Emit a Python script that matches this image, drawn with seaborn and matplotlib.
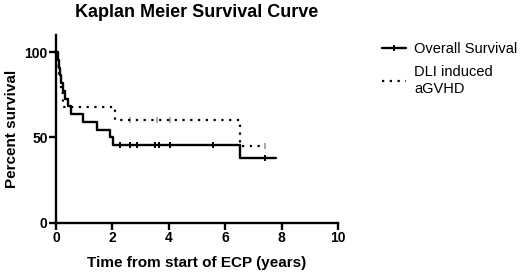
import matplotlib
matplotlib.use("Agg")
import matplotlib.pyplot as plt
import seaborn as sns
import pandas as pd
from matplotlib.lines import Line2D

# ---- data ----
os_time = [0, 0.08, 0.11, 0.14, 0.19, 0.25, 0.33, 0.42, 0.53, 0.95, 1.44, 1.91, 2.03, 6.52, 7.80]
os_surv = [100, 95.5, 90.9, 86.4, 81.8, 77.3, 72.7, 68.2, 63.6, 59.1, 54.5, 50.0, 45.5, 37.9, 37.9]
os_cens_time = [2.27, 2.62, 2.88, 3.51, 3.66, 4.04, 5.58, 7.41]
os_cens_surv = [45.5, 45.5, 45.5, 45.5, 45.5, 45.5, 45.5, 37.9]

dli_time = [0, 0.04, 0.10, 0.17, 0.26, 2.09, 6.52, 7.41]
dli_surv = [100, 92, 84, 76, 68.0, 60.2, 45.2, 45.2]
dli_cens_time = [2.62, 3.57, 4.04, 7.41]
dli_cens_surv = [60.2, 60.2, 60.2, 45.2]

x_ticks = [0, 2, 4, 6, 8, 10]
y_ticks = [0, 50, 100]
series_labels = ["Overall Survival", "DLI induced\naGVHD"]

sns.set_theme(style="ticks")
plt.rcParams["font.family"] = ["Liberation Sans", "DejaVu Sans"]
plt.rcParams["text.color"] = "black"
plt.rcParams["axes.labelcolor"] = "black"
plt.rcParams["xtick.color"] = "black"
plt.rcParams["ytick.color"] = "black"

fig = plt.figure(figsize=(5.2, 2.75), dpi=100)
ax = fig.add_axes([0.1077, 0.19, 0.5423, 0.683])

lw = 1.7
sns.lineplot(x=os_time, y=os_surv, ax=ax, color="black", linewidth=lw,
             drawstyle="steps-post", estimator=None, sort=False)
sns.lineplot(x=dli_time, y=dli_surv, ax=ax, color="black", linewidth=1.6,
             linestyle=(0, (1, 2.5)), drawstyle="steps-post", estimator=None, sort=False)
sns.scatterplot(x=os_cens_time, y=os_cens_surv, ax=ax, marker="|", s=20,
                color="black", linewidth=1.4)
sns.scatterplot(x=dli_cens_time, y=dli_cens_surv, ax=ax, marker="|", s=14,
                color="#999999", linewidth=1.2)

ax.set_xlim(0, 10)
ax.set_ylim(0, 110)
ax.set_xticks(x_ticks)
ax.set_yticks(y_ticks)
ax.set_xticklabels([str(v) for v in x_ticks], fontweight="bold", fontsize=10)
ax.set_yticklabels([str(v) for v in y_ticks], fontweight="bold", fontsize=10)
for s in ["top", "right"]:
    ax.spines[s].set_visible(False)
for s in ["left", "bottom"]:
    ax.spines[s].set_linewidth(1.7)
    ax.spines[s].set_color("black")
ax.spines["left"].set_bounds(0, 110)
ax.tick_params(axis="both", direction="out", length=5, width=1.7, colors="black", pad=1)

ax.set_xlabel("Time from start of ECP (years)", fontweight="bold", fontsize=11, labelpad=8)
ax.set_ylabel("Percent survival", fontweight="bold", fontsize=11, labelpad=4)
fig.text(0.378, 0.955, "Kaplan Meier Survival Curve", ha="center", va="center",
         fontweight="bold", fontsize=13, color="black")

handles = [
    Line2D([], [], color="black", linewidth=lw, marker="|", markersize=5, markeredgewidth=1.5),
    Line2D([], [], color="black", linewidth=1.6, linestyle=(0, (1, 2.5))),
]
fig.legend(handles, series_labels, loc="upper left", bbox_to_anchor=(0.71, 0.895),
           frameon=False, fontsize=10.5, handlelength=1.6, handletextpad=0.6,
           labelspacing=0.65)

fig.savefig("out.png", dpi=100)
